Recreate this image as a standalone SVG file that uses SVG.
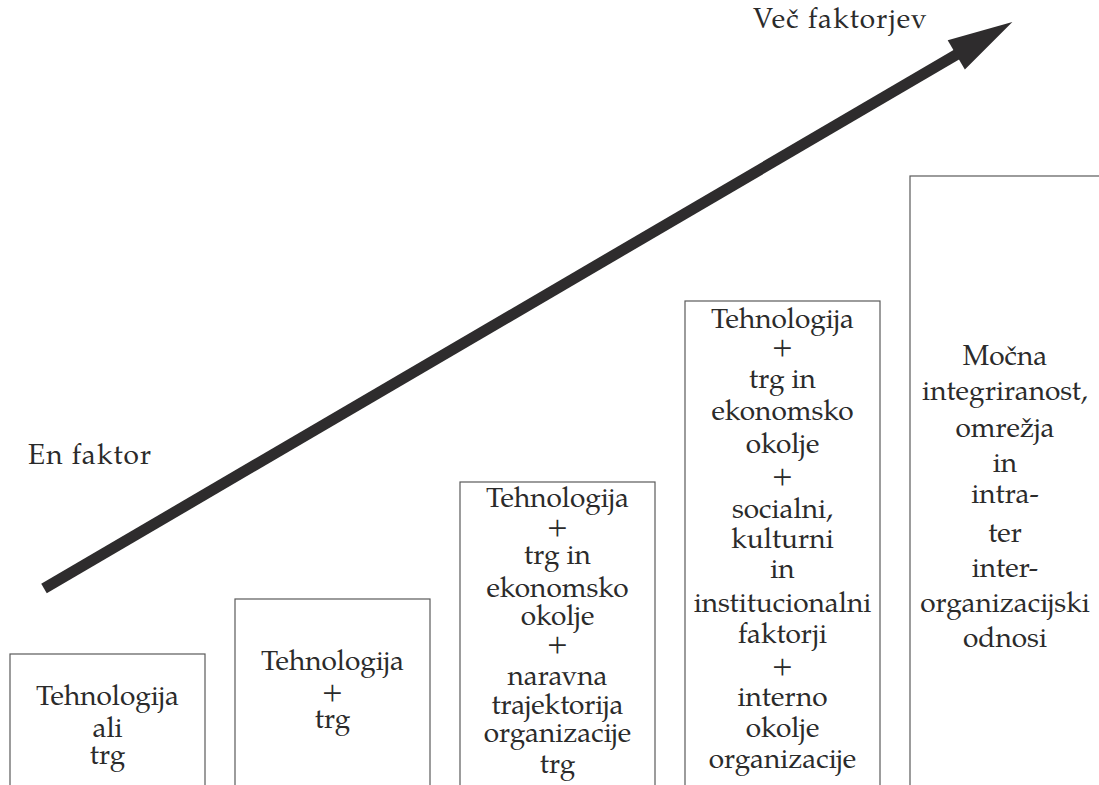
<svg xmlns="http://www.w3.org/2000/svg" width="1099" height="785" viewBox="0 0 1099 785">
  <style>
    .box { fill: #ffffff; stroke: #5a5a5a; stroke-width: 1.2; }
    .t { font-size: 28px; fill: #2b2b2b; }
    .c { text-anchor: middle; }
    .lbl { letter-spacing: 1.1px; }
    .shaft { stroke: #2e2c2d; stroke-width: 11; fill: none; }
  </style>
  <defs>
    <marker id="head" markerUnits="userSpaceOnUse" viewBox="0 -17 65 34" markerWidth="65" markerHeight="34" refX="2" refY="0" orient="auto" overflow="visible">
      <path d="M0,-17 L65,0 L0,17 Z" fill="#2e2c2d"/>
    </marker>
  </defs>
  <rect width="1099" height="785" fill="#ffffff"/>

  <!-- rising arrow: from one factor to many factors -->
  <g id="connectors">
    <line class="shaft" x1="44" y1="588.5" x2="958" y2="53.8" marker-end="url(#head)"/>
  </g>

  <g font-family="Palatino, 'Palatino Linotype', 'Book Antiqua', 'TeX Gyre Pagella', 'URW Palladio L', 'Liberation Serif', serif">
    <g id="label-en">
      <text class="t lbl" x="28" y="464">En faktor</text>
    </g>
    <g id="label-vec">
      <text class="t lbl" x="753" y="28">Več faktorjev</text>
    </g>

    <g id="stage1">
      <rect class="box" x="10" y="654" width="195" height="140"/>
      <text class="t c" x="107.5" y="705">Tehnologija</text>
      <text class="t c" x="107.5" y="737">ali</text>
      <text class="t c" x="107.5" y="764">trg</text>
    </g>

    <g id="stage2">
      <rect class="box" x="235" y="599" width="195" height="200"/>
      <text class="t c" x="332.5" y="670">Tehnologija</text>
      <text class="t c" x="332.5" y="700">+</text>
      <text class="t c" x="332.5" y="728">trg</text>
    </g>

    <g id="stage3">
      <rect class="box" x="460" y="482" width="195" height="320"/>
      <text class="t c" x="557.5" y="507">Tehnologija</text>
      <text class="t c" x="557.5" y="535">+</text>
      <text class="t c" x="557.5" y="564">trg in</text>
      <text class="t c" x="557.5" y="597">ekonomsko</text>
      <text class="t c" x="557.5" y="625">okolje</text>
      <text class="t c" x="557.5" y="652">+</text>
      <text class="t c" x="557.5" y="685">naravna</text>
      <text class="t c" x="557.5" y="714">trajektorija</text>
      <text class="t c" x="557.5" y="742">organizacije</text>
      <text class="t c" x="557.5" y="773">trg</text>
    </g>

    <g id="stage4">
      <rect class="box" x="685" y="301" width="195" height="500"/>
      <text class="t c" x="782.5" y="328">Tehnologija</text>
      <text class="t c" x="782.5" y="355">+</text>
      <text class="t c" x="782.5" y="388">trg in</text>
      <text class="t c" x="782.5" y="420">ekonomsko</text>
      <text class="t c" x="782.5" y="453">okolje</text>
      <text class="t c" x="782.5" y="484">+</text>
      <text class="t c" x="782.5" y="518">socialni,</text>
      <text class="t c" x="782.5" y="548">kulturni</text>
      <text class="t c" x="782.5" y="578">in</text>
      <text class="t c" x="782.5" y="612">institucionalni</text>
      <text class="t c" x="782.5" y="643">faktorji</text>
      <text class="t c" x="782.5" y="674">+</text>
      <text class="t c" x="782.5" y="706">interno</text>
      <text class="t c" x="782.5" y="737">okolje</text>
      <text class="t c" x="782.5" y="768">organizacije</text>
    </g>

    <g id="stage5">
      <rect class="box" x="910" y="176" width="200" height="630"/>
      <text class="t c" x="1005" y="365">Močna</text>
      <text class="t c" x="1005" y="400">integriranost,</text>
      <text class="t c" x="1005" y="437">omrežja</text>
      <text class="t c" x="1005" y="472">in</text>
      <text class="t c" x="1005" y="503">intra-</text>
      <text class="t c" x="1005" y="542">ter</text>
      <text class="t c" x="1005" y="577">inter-</text>
      <text class="t c" x="1005" y="612">organizacijski</text>
      <text class="t c" x="1005" y="647">odnosi</text>
    </g>
  </g>
</svg>
